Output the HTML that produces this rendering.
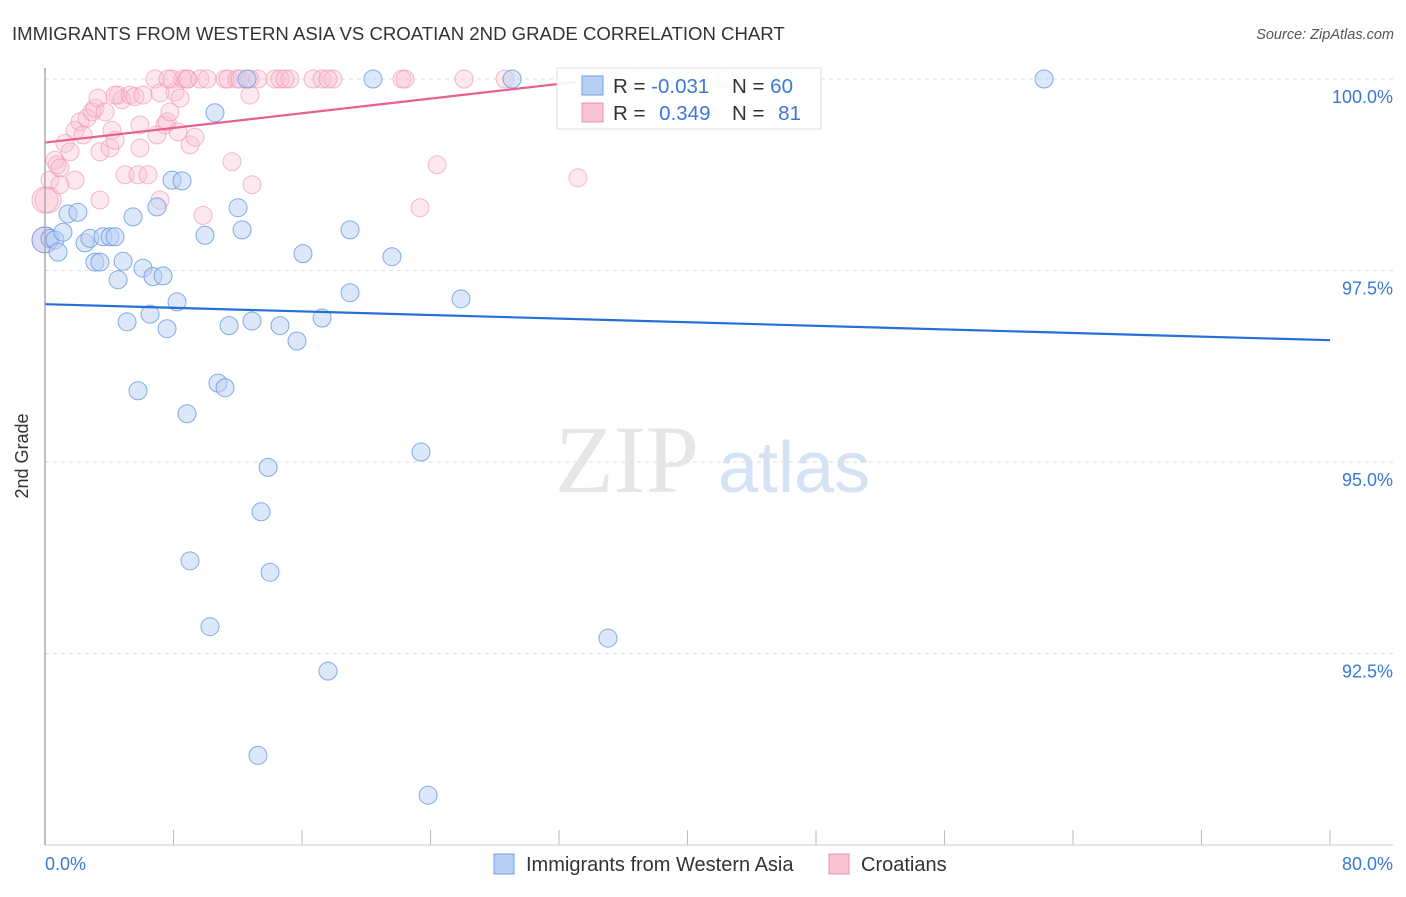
<!DOCTYPE html>
<html><head><meta charset="utf-8"><style>
body{margin:0;background:#fff;font-family:"Liberation Sans",sans-serif}
svg text{font-family:"Liberation Sans",sans-serif}
</style></head><body>
<svg id="c" width="1406" height="892" xmlns="http://www.w3.org/2000/svg">
<text x="12" y="40" font-size="18.6" fill="#333">IMMIGRANTS FROM WESTERN ASIA VS CROATIAN 2ND GRADE CORRELATION CHART</text>
<text x="1394" y="39" font-size="14.5" fill="#555" text-anchor="end" font-style="italic">Source: ZipAtlas.com</text>
<text x="555" y="492" font-size="96" fill="#e6e6e6" style="font-family:'Liberation Serif',serif">ZIP</text>
<text x="718" y="492" font-size="72" fill="#d4e2f4">atlas</text>
<g id="grid"></g>
<g id="pts"></g>
<g id="trend"></g>
<line x1="45" y1="68" x2="45" y2="845" stroke="#aaa" stroke-width="1.5"/>
<line x1="45" y1="845" x2="1393" y2="845" stroke="#ccc"/>
<text x="28" y="456" font-size="18" fill="#333" text-anchor="middle" transform="rotate(-90 28 456)">2nd Grade</text>
<text x="45" y="870" font-size="18" fill="#3a78d8">0.0%</text>
<text x="1393" y="870" font-size="18" fill="#3a78d8" text-anchor="end">80.0%</text>
<g>
<rect x="557" y="68" width="264" height="61" fill="#fff" fill-opacity="0.9" stroke="#ddd"/>
<rect x="582" y="76" width="21" height="19" fill="#b9d0f3" stroke="#6f9fe6"/>
<rect x="582" y="103" width="21" height="19" fill="#f8c3d2" stroke="#ec93ae"/>
<text x="613" y="93" font-size="20.5" fill="#333">R = <tspan fill="#3a78d8">-0.031</tspan></text>
<text x="732" y="93" font-size="20.5" fill="#333">N = <tspan fill="#3a78d8">60</tspan></text>
<text x="613" y="120" font-size="20.5" fill="#333">R = <tspan fill="#3a78d8" dx="8">0.349</tspan></text>
<text x="732" y="120" font-size="20.5" fill="#333">N = <tspan fill="#3a78d8" dx="8">81</tspan></text>
</g>
<g>
<rect x="494" y="854" width="20" height="20" fill="#b9d0f3" stroke="#6f9fe6"/>
<text x="526" y="871" font-size="20" fill="#333">Immigrants from Western Asia</text>
<rect x="829" y="854" width="20" height="20" fill="#f8c3d2" stroke="#ec93ae"/>
<text x="861" y="871" font-size="20" fill="#333">Croatians</text>
</g>
</svg>
<script>
const yTicks=[100,97.5,95,92.5];
const yTickLabels=["100.0%","97.5%","95.0%","92.5%"];
const xTicks=[0,8,16,24,32,40,48,56,64,72,80];
const blueX=[0,0.31,0.62,0.81,1.12,1.43,2.05,2.49,2.8,3.11,3.42,3.61,4.05,4.36,4.55,4.86,5.11,5.48,5.79,6.1,6.54,6.72,6.97,7.35,7.6,7.91,8.22,8.53,8.84,9.03,9.96,10.27,10.58,10.77,11.21,11.46,12.02,12.27,12.58,12.89,13.26,13.45,13.89,14.01,14.63,15.69,16.06,17.25,17.62,18.99,18.99,20.42,21.6,23.41,23.85,25.9,29.08,35.05,42.34,62.2];
const blueY=[97.9,97.92,97.9,97.74,98.0,98.24,98.26,97.86,97.92,97.61,97.61,97.94,97.94,97.94,97.38,97.62,96.83,98.2,95.93,97.53,96.93,97.42,98.33,97.43,96.74,98.68,97.09,98.67,95.63,93.71,97.96,92.85,99.56,96.03,95.97,96.78,98.32,98.03,100,96.84,91.17,94.35,94.93,93.56,96.78,96.58,97.72,96.88,92.27,98.03,97.21,100,97.68,95.13,90.65,97.13,100,92.7,100,100];
const pinkX=[0,0.19,0.31,0.62,0.75,0.93,1.25,1.56,1.87,1.87,2.18,2.37,2.61,2.93,3.11,3.3,3.42,3.42,3.74,4.05,4.17,4.36,4.55,4.79,4.98,5.29,5.6,5.79,5.91,6.1,6.41,6.85,6.97,7.16,7.47,7.6,7.78,7.91,8.09,8.28,8.41,8.59,8.9,9.03,9.34,9.65,9.84,10.09,11.21,11.39,11.64,11.95,12.14,12.76,12.89,13.26,14.32,14.63,15.25,16.69,17.25,17.93,22.23,22.41,23.35,24.41,26.09,28.64,33.18,36.86,5.91,7.16,14.94,17.62,7.66,12.76,0.93,0,4.36,8.84];
const pinkY=[97.9,98.42,98.68,98.94,98.88,98.84,99.16,99.05,98.68,99.33,99.44,99.27,99.49,99.57,99.62,99.75,98.42,99.05,99.57,99.1,99.33,99.2,99.79,99.73,98.75,99.79,99.77,98.75,99.1,99.79,98.75,100,99.27,98.42,99.4,99.44,99.57,100,99.83,99.31,99.75,100,100,99.14,99.24,100,98.22,100,100,100,98.92,100,100,99.79,98.62,100,100,100,100,100,100,100,100,100,98.32,98.88,100,100,98.71,100,99.4,99.82,100,100,100,100,98.62,98.42,99.79,100];
const blueTrend=[[0,97.06],[80,96.59]];
const pinkTrend=[[0,99.17],[33,99.96]];
const sx=v=>45+v/80*1285;
const sy=v=>79+(100-v)*76.6;
const NS="http://www.w3.org/2000/svg";
function mk(t,a,p){const e=document.createElementNS(NS,t);for(const k in a)e.setAttribute(k,a[k]);p.appendChild(e);return e;}
const grid=document.getElementById('grid');
yTicks.forEach((t,i)=>{
 const l=mk('line',{x1:45,x2:1393,y1:sy(t),y2:sy(t),stroke:'#ddd','stroke-dasharray':'4,4'},grid);
 
 
 const tx=mk('text',{x:1393,y:sy(t)+24,'font-size':18,fill:'#3a78d8','text-anchor':'end'},grid);
 tx.textContent=yTickLabels[i];
 
 
});
xTicks.forEach(t=>{
 const l=mk('line',{x1:sx(t),x2:sx(t),y1:830,y2:845,stroke:'#bbb'},grid);
 
 
});
const pts=document.getElementById('pts');
pinkX.forEach((x,i)=>{
 const r=(x<0.5&&pinkY[i]<98.5)?13:9;
 const c=mk('circle',{cx:sx(x),cy:sy(pinkY[i]),r:r,fill:'#f8bcd0','fill-opacity':0.35,stroke:'#ec8fae','stroke-opacity':0.6,'stroke-width':1},pts);
 
 
});
blueX.forEach((x,i)=>{
 const r=(i===0)?13:9;
 const c=mk('circle',{cx:sx(x),cy:sy(blueY[i]),r:r,fill:'#b9d0f3','fill-opacity':0.5,stroke:'#5d93e0','stroke-opacity':0.75,'stroke-width':1},pts);
 
 
});
const tr=document.getElementById('trend');
const bl=mk('line',{x1:sx(blueTrend[0][0]),y1:sy(blueTrend[0][1]),x2:sx(blueTrend[1][0]),y2:sy(blueTrend[1][1]),stroke:'#2470d6','stroke-width':2.2},tr);


const pl=mk('line',{x1:sx(pinkTrend[0][0]),y1:sy(pinkTrend[0][1]),x2:sx(pinkTrend[1][0]),y2:sy(pinkTrend[1][1]),stroke:'#e8608c','stroke-width':2.2},tr);


</script>
</body></html>
